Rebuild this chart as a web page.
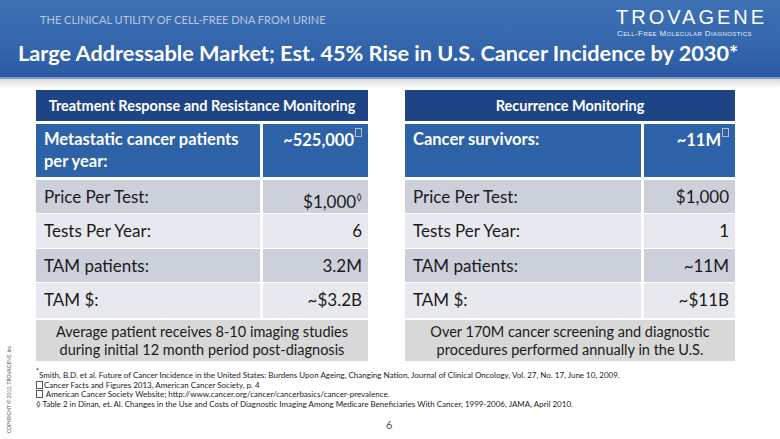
<!DOCTYPE html>
<html><head><meta charset="utf-8">
<script src="https://cdn.jsdelivr.net/npm/chart.js@4/dist/chart.umd.min.js"></script>
<style>
html,body{margin:0;padding:0;width:780px;height:439px;overflow:hidden;background:#fff;font-family:Lato,"Open Sans",sans-serif;}
#slide{position:relative;width:780px;height:439px;}
#hdr{position:absolute;left:0;top:0;width:780px;height:77px;background:linear-gradient(#3d70b3,#3466ad 60%,#2c5aa2);}
#hdrline{position:absolute;left:0;top:77px;width:780px;height:2px;background:#7d9acb;}
#band{position:absolute;left:0;top:79px;width:780px;height:9px;background:linear-gradient(#dcdcdc,#fff);}
#kicker{position:absolute;left:40px;top:13px;font-size:11px;color:#b9c7df;}
#title{position:absolute;left:18px;top:40px;font-size:21.7px;font-weight:bold;color:#fff;white-space:nowrap;}
#logo{position:absolute;left:616px;top:6px;font-size:20px;color:#fff;letter-spacing:3px;font-family:"Liberation Sans",sans-serif;}
#logosub{position:absolute;left:617px;top:29px;font-size:8px;color:#e8eef8;font-variant:small-caps;letter-spacing:0.4px;font-family:"Liberation Sans",sans-serif;}
.tbl{position:absolute;top:90px;}
.th{position:absolute;left:0;top:0;height:31px;background:#1f4485;color:#fff;font-weight:bold;font-size:14.5px;text-align:center;line-height:31px;}
.row{position:absolute;left:0;}
.cell{position:absolute;top:0;height:100%;box-sizing:border-box;font-size:17px;color:#1a1a1a;}
.cl{left:0;padding-left:8px;}
.cr{text-align:right;padding-right:6px;}
.blue .cell{background:#2d62a8;color:#fff;font-weight:bold;font-size:16.5px;padding-top:4px;line-height:22px;}
.dk .cell{background:#ccd0da;line-height:34px;}
.lt .cell{background:#e8e9ee;line-height:34px;}
.note{position:absolute;height:41px;background:#d8d8d8;color:#1a1a1a;font-size:14.5px;text-align:center;line-height:18px;padding-top:3px;box-sizing:border-box;}
.sq{display:inline-block;width:5px;height:7px;border:1px solid #bbb;vertical-align:9px;margin-left:1px;}
.sqf{display:inline-block;width:5px;height:6px;border:1px solid #555;margin-right:1px;vertical-align:-1px;}
#foot{position:absolute;left:36px;top:371px;font-size:8px;color:#222;line-height:9.6px;white-space:nowrap;}
#page{position:absolute;left:386px;top:418px;font-size:11px;color:#555;}
#copy{position:absolute;left:-36px;top:386px;width:90px;text-align:center;transform:rotate(-90deg);font-size:5px;color:#555;white-space:nowrap;}
</style></head>
<body><div id="slide">
<div id="hdr"></div><div id="hdrline"></div><div id="band"></div>
<div id="kicker"></div>
<div id="title"></div>
<div id="logo">TROVAGENE</div>
<div id="logosub">Cell-Free Molecular Diagnostics</div>
<div id="tables"></div>
<div id="foot"></div>
<div id="page">6</div>
<div id="copy">COPYRIGHT © 2012, TROVAGENE, Inc.</div>
</div>
<script>
// ---- data ----
const kicker = "THE CLINICAL UTILITY OF CELL-FREE DNA FROM URINE";
const title = "Large Addressable Market; Est. 45% Rise in U.S. Cancer Incidence by 2030*";
const tableTitles = ["Treatment Response and Resistance Monitoring", "Recurrence Monitoring"];
const rowLabelsLeft = ["Metastatic cancer patients per year:", "Price Per Test:", "Tests Per Year:", "TAM patients:", "TAM $:"];
const rowValuesLeft = ["~525,000", "$1,000", "6", "3.2M", "~$3.2B"];
const rowMarksLeft = ["box", "◊", "", "", ""];
const rowLabelsRight = ["Cancer survivors:", "Price Per Test:", "Tests Per Year:", "TAM patients:", "TAM $:"];
const rowValuesRight = ["~11M", "$1,000", "1", "~11M", "~$11B"];
const rowMarksRight = ["box", "", "", "", ""];
const notes = ["Average patient receives 8-10 imaging studies<br>during initial 12 month period post-diagnosis",
               "Over 170M cancer screening and diagnostic<br>procedures performed annually in the U.S."];
const footnotes = [
 '<sup style="font-size:7px;line-height:0">*</sup>Smith, B.D. et al. Future of Cancer Incidence in the United States: Burdens Upon Ageing, Changing Nation,  Journal of Clinical Oncology, Vol. 27, No. 17, June 10, 2009.',
 '<span class="sqf"></span>Cancer Facts and Figures 2013, American Cancer Society, p. 4',
 '<span class="sqf"></span> American Cancer Society Website; http://www.cancer.org/cancer/cancerbasics/cancer-prevalence.',
 '◊ Table 2 in Dinan, et. Al. Changes in the Use and Costs of Diagnostic Imaging Among Medicare Beneficiaries With Cancer, 1999-2006, JAMA, April 2010.'
];

document.getElementById('kicker').textContent = kicker;
document.getElementById('title').textContent = title;
document.getElementById('foot').innerHTML = footnotes.join('<br>');

const layouts = [
  {left:36, width:332, split:226},
  {left:405, width:330, split:238}
];
const rowTops = [34, 90, 124, 159, 193];
const rowHeights = [53, 33, 34, 33, 35];
const tables = document.getElementById('tables');
[[rowLabelsLeft,rowValuesLeft,rowMarksLeft],[rowLabelsRight,rowValuesRight,rowMarksRight]].forEach((t,ti)=>{
  const L = layouts[ti];
  const d = document.createElement('div'); d.className='tbl';
  d.style.left=L.left+'px'; d.style.width=L.width+'px';
  let h = `<div class="th" style="width:${L.width}px">${tableTitles[ti]}</div>`;
  t[0].forEach((lab,i)=>{
    const cls = i===0?'blue':(i%2===1?'dk':'lt');
    const mk = t[2][i]==='box'?'<span class="sq"></span>':(t[2][i]?`<sup style="font-size:10px">${t[2][i]}</sup>`:'');
    const labHtml = i===0 && ti===0 ? 'Metastatic cancer patients<br>per year:' : lab;
    h += `<div class="row ${cls}" style="top:${rowTops[i]}px;height:${rowHeights[i]}px;width:${L.width}px">
      <div class="cell cl" style="width:${L.split-2}px">${labHtml}</div>
      <div class="cell cr" style="left:${L.split+1}px;width:${L.width-L.split-1}px">${t[1][i]}${mk}</div></div>`;
  });
  h += `<div class="note" style="top:230px;left:0;width:${L.width}px">${notes[ti]}</div>`;
  d.innerHTML = h;
  tables.appendChild(d);
});
</script>
</body></html>
